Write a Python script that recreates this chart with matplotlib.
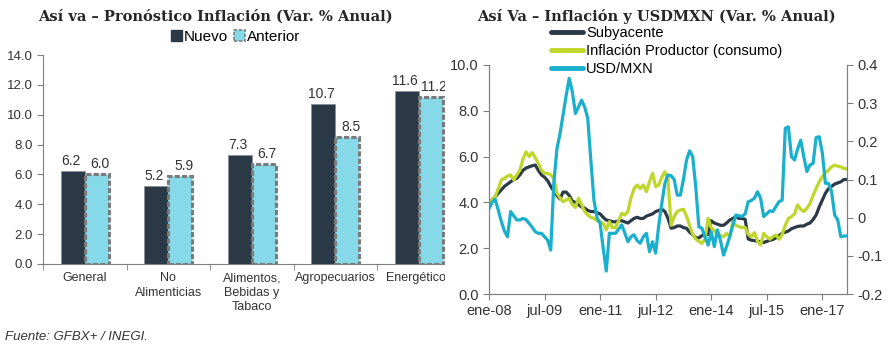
import matplotlib
matplotlib.use('Agg')
import matplotlib.pyplot as plt
from matplotlib.patches import Rectangle, Patch
from matplotlib.lines import Line2D
import numpy as np

# ======== Data ========
categorias = ['General', 'No\nAlimenticias', 'Alimentos,\nBebidas y\nTabaco',
              'Agropecuarios', 'Energéticos']
nuevo = [6.2, 5.2, 7.3, 10.7, 11.6]
anterior = [6.0, 5.9, 6.7, 8.5, 11.2]

meses_ticks = ['ene-08', 'jul-09', 'ene-11', 'jul-12', 'ene-14', 'jul-15', 'ene-17']

subyacente = [3.96, 4.1, 4.25, 4.4, 4.55, 4.7, 4.8, 4.9, 5.0, 5.05,
              5.2, 5.4, 5.5, 5.55, 5.6, 5.63, 5.4, 5.2, 5.1, 4.95,
              4.7, 4.5, 4.3, 4.15, 4.45, 4.45, 4.3, 4.05, 4.0, 3.9,
              3.8, 3.75, 3.65, 3.6, 3.6, 3.55, 3.5, 3.35, 3.23, 3.2,
              3.16, 3.15, 3.2, 3.2, 3.15, 3.1, 3.2, 3.3, 3.35, 3.3,
              3.3, 3.4, 3.45, 3.5, 3.6, 3.65, 3.7, 3.6, 3.3, 2.87,
              2.9, 2.97, 2.97, 2.9, 2.87, 2.7, 2.58, 2.45, 2.45, 2.55,
              2.58, 2.6, 3.2, 3.1, 3.05, 3.0, 3.0, 3.1, 3.23, 3.3,
              3.38, 3.3, 3.3, 3.26, 2.4, 2.35, 2.33, 2.3, 2.28, 2.25,
              2.3, 2.35, 2.38, 2.45, 2.55, 2.65, 2.7, 2.75, 2.85, 2.9,
              2.95, 2.97, 2.97, 3.05, 3.1, 3.25, 3.45, 3.8, 4.1, 4.4,
              4.6, 4.7, 4.8, 4.85, 4.9, 5.0, 5.0]

productor = [3.96, 4.1, 4.25, 4.6, 4.98, 5.05, 5.15, 5.2, 4.98, 5.2,
             5.41, 5.9, 6.21, 6.0, 6.17, 5.95, 5.7, 5.4, 5.27, 5.27,
             5.2, 5.05, 4.4, 4.2, 4.03, 4.1, 4.18, 3.9, 3.78, 4.18,
             3.9, 3.6, 3.45, 3.35, 3.3, 3.2, 3.15, 3.09, 2.8, 3.16,
             2.9, 2.9, 3.2, 3.52, 3.45, 3.6, 4.2, 4.6, 4.76, 4.61,
             4.76, 4.47, 4.9, 5.27, 4.69, 4.76, 5.1, 5.34, 4.98, 3.0,
             3.38, 3.6, 3.67, 3.7, 3.4, 3.0, 2.6, 2.4, 2.3, 2.21,
             2.4, 3.3, 2.9, 2.75, 2.65, 2.55, 2.5, 2.65, 2.5, 3.16,
             3.0, 2.94, 2.9, 2.91, 2.6, 2.5, 2.68, 2.3, 2.14, 2.65,
             2.5, 2.39, 2.5, 2.58, 2.39, 2.6, 3.0, 3.3, 3.38, 3.5,
             3.89, 3.7, 3.6, 3.74, 3.95, 4.3, 4.61, 4.9, 5.12, 5.3,
             5.41, 5.55, 5.63, 5.58, 5.55, 5.48, 5.46]

usdmxn = [0.024, 0.04, 0.048, 0.02, -0.01, -0.035, -0.05, 0.016, 0.005, -0.006,
          -0.006, -0.002, -0.005, -0.015, -0.025, -0.037, -0.041, -0.041, -0.05, -0.059,
          -0.085, 0.09, 0.18, 0.22, 0.269, 0.32, 0.365, 0.33, 0.273, 0.29,
          0.308, 0.29, 0.26, 0.15, 0.046, 0.0, -0.015, -0.08, -0.14, -0.041,
          -0.041, -0.041, -0.03, -0.019, -0.04, -0.063, -0.05, -0.045, -0.06, -0.067,
          -0.05, -0.041, -0.089, -0.063, -0.093, -0.02, 0.038, 0.09, 0.112, 0.11,
          0.1, 0.059, 0.059, 0.1, 0.151, 0.175, 0.16, 0.08, -0.024, -0.028,
          -0.05, -0.072, -0.037, -0.076, -0.032, -0.06, -0.098, -0.075, -0.05, -0.02,
          0.007, 0.005, 0.003, 0.01, 0.042, 0.045, 0.051, 0.068, 0.051, 0.003,
          0.01, 0.018, 0.016, 0.03, 0.042, 0.046, 0.234, 0.238, 0.16, 0.151,
          0.18, 0.203, 0.16, 0.121, 0.138, 0.142, 0.21, 0.212, 0.17, 0.09,
          0.09, 0.068, 0.007, -0.006, -0.05, -0.048, -0.048]

# ======== Style ========
DARK = '#2b3a46'
CYAN = '#86d9e8'
GREEN = '#bfd62a'
BLUE = '#1aafcc'
GRAY = '#808080'
TXT = '#333333'
TITLE_FONT = 'DejaVu Serif'

plt.rcParams['font.family'] = ['Liberation Sans', 'DejaVu Sans']

W, H = 893, 347
fig = plt.figure(figsize=(W / 100, H / 100), dpi=100)


def box(l, r, t, b):
    return [l / W, 1 - b / H, (r - l) / W, (b - t) / H]


# ======== Left chart: bars ========
ax1 = fig.add_axes(box(43, 460.5, 55, 264), zorder=0)
x = np.arange(len(categorias))
bw = 0.29
ax1.bar(x - bw / 2, nuevo, bw, color=DARK, edgecolor='#8a9299', linewidth=0.6,
        label='Nuevo')
ax1.bar(x + bw / 2, anterior, bw, color=CYAN, edgecolor='#7a7a7a', linewidth=2.2,
        linestyle=(0, (1.7, 0.7)), label='Anterior')
for i in range(len(categorias)):
    ax1.text(x[i] - bw / 2 - 0.02, nuevo[i] + 0.2, f'{nuevo[i]:.1f}', ha='center',
             va='bottom', fontsize=10, color=TXT)
    ax1.text(x[i] + bw / 2 + 0.04, anterior[i] + 0.2, f'{anterior[i]:.1f}',
             ha='center', va='bottom', fontsize=10, color=TXT)

ax1.set_xlim(-0.5, len(categorias) - 0.5)
ax1.set_ylim(0, 14)
ax1.set_yticks(np.arange(0, 14.1, 2))
ax1.set_yticklabels([f'{v:.1f}' for v in np.arange(0, 14.1, 2)])
ax1.set_xticks(x)
ax1.set_xticklabels(categorias, fontsize=9, color=TXT, linespacing=1.25)
ax1.set_xticks(np.arange(-0.5, len(categorias), 1), minor=True)
ax1.tick_params(axis='x', which='major', length=0, pad=6)
ax1.tick_params(axis='x', which='minor', length=4, color=GRAY, direction='out')
ax1.tick_params(axis='y', length=4, color=GRAY, labelsize=9.5, labelcolor=TXT)
for s in ['top', 'right']:
    ax1.spines[s].set_visible(False)
for s in ['left', 'bottom']:
    ax1.spines[s].set_color(GRAY)

h1 = [Patch(facecolor=DARK, edgecolor=DARK),
      Patch(facecolor=CYAN, edgecolor=GRAY, linestyle=(0, (2, 1)), linewidth=1.2)]
fig.legend(h1, ['Nuevo', 'Anterior'], loc='center', bbox_to_anchor=(236 / W, 1 - 37 / H),
           ncol=2, frameon=False, fontsize=11, handlelength=0.7, handleheight=0.7,
           handletextpad=0.15, columnspacing=0.4, borderpad=0)

fig.text(215 / W, 1 - 16 / H, 'Así va – Pronóstico Inflación (Var. % Anual)',
         ha='center', va='center', fontsize=10.5, fontweight='bold',
         family=TITLE_FONT, color='#262626')

fig.text(5 / W, 1 - 337 / H, 'Fuente: GFBX+ / INEGI.', ha='left', va='center',
         fontsize=9.5, style='italic', color=TXT)

# white panel of the right chart covers the end of the left one
fig.patches.append(Rectangle((445 / W, 0), 1 - 445 / W, 1, transform=fig.transFigure,
                             facecolor='white', edgecolor='none', zorder=1))

# ======== Right chart: lines ========
ax2 = fig.add_axes(box(489, 847, 65, 294), zorder=2)
ax2.patch.set_alpha(0)
ax3 = ax2.twinx()
ax3.set_zorder(2)
m = np.arange(len(subyacente))
ax2.plot(m, subyacente, color=DARK, lw=2.3, solid_joinstyle='round')
ax2.plot(m, productor, color=GREEN, lw=2.3, solid_joinstyle='round')
ax3.plot(m, usdmxn, color=BLUE, lw=2.3, solid_joinstyle='round')

ax2.set_xlim(0, 116)
ax2.set_ylim(0, 10)
ax3.set_ylim(-0.2, 0.4)
ax2.set_yticks(np.arange(0, 10.1, 2))
ax2.set_yticklabels([f'{v:.1f}' for v in np.arange(0, 10.1, 2)])
r_ticks = [-0.2, -0.1, 0, 0.1, 0.2, 0.3, 0.4]
ax3.set_yticks(r_ticks)
ax3.set_yticklabels(['-0.2', '-0.1', '0', '0.1', '0.2', '0.3', '0.4'])
ax2.set_xticks(np.arange(len(meses_ticks)) * 18)
ax2.set_xticklabels(meses_ticks)
ax2.tick_params(axis='both', length=4, color=GRAY, labelsize=10.5, labelcolor=TXT)
ax2.tick_params(axis='x', pad=3)
ax3.tick_params(axis='y', length=4, color=GRAY, labelsize=10.5, labelcolor=TXT)
for a in (ax2, ax3):
    a.spines['top'].set_visible(False)
    for s in ['left', 'bottom', 'right']:
        a.spines[s].set_color(GRAY)

h2 = [Line2D([], [], color=DARK, lw=3.5, solid_capstyle='round'),
      Line2D([], [], color=GREEN, lw=3.5, solid_capstyle='round'),
      Line2D([], [], color=BLUE, lw=3.5, solid_capstyle='round')]
fig.legend(h2, ['Subyacente', 'Inflación Productor (consumo)', 'USD/MXN'],
           loc='upper left', bbox_to_anchor=(551 / W, 1 - 26 / H), frameon=False,
           fontsize=10.5, handlelength=2.2, handletextpad=0.2, labelspacing=0.27,
           borderpad=0, borderaxespad=0)

fig.text(656 / W, 1 - 16 / H, 'Así Va – Inflación y USDMXN (Var. % Anual)',
         ha='center', va='center', fontsize=10.5, fontweight='bold',
         family=TITLE_FONT, color='#262626')

fig.savefig('out.png', dpi=100)
